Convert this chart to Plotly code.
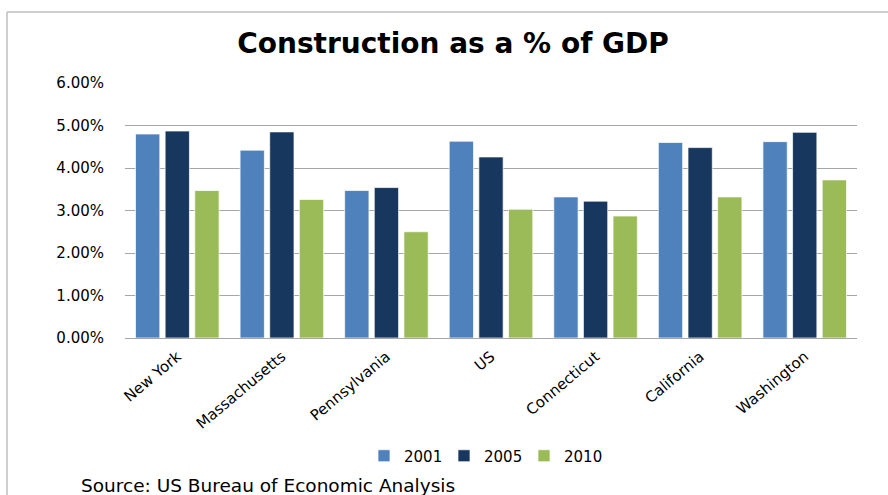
import plotly.graph_objects as go

categories = ["New York", "Massachusetts", "Pennsylvania", "US", "Connecticut", "California", "Washington"]
years = ["2001", "2005", "2010"]
values_2001 = [4.80, 4.42, 3.47, 4.63, 3.32, 4.60, 4.62]
values_2005 = [4.87, 4.85, 3.54, 4.26, 3.22, 4.48, 4.84]
values_2010 = [3.47, 3.26, 2.50, 3.03, 2.87, 3.32, 3.72]
colors = ["#4F81BD", "#17375E", "#9BBB59"]
tick_vals = [0, 1, 2, 3, 4, 5, 6]
tick_text = ["0.00%", "1.00%", "2.00%", "3.00%", "4.00%", "5.00%", "6.00%"]

W, H = 888, 495
ml, mr, mt, mb = 125, 31, 83, 157
pw, ph = W - ml - mr, H - mt - mb

def px_x(x):
    return (x - ml) / pw

def px_y(y):
    return (H - mb - y) / ph

fig = go.Figure()
for name, vals, col in zip(years, [values_2001, values_2005, values_2010], colors):
    fig.add_trace(go.Bar(
        x=categories, y=vals, name=name,
        marker=dict(color=col, line=dict(color="rgba(255,255,255,0.7)", width=1)),
    ))

font = "DejaVu Sans, sans-serif"

fig.update_layout(
    width=W, height=H,
    margin=dict(l=ml, r=mr, t=mt, b=mb),
    paper_bgcolor="white", plot_bgcolor="white",
    barmode="group", bargap=0.15, bargroupgap=0.18,
    title=dict(text="<b>Construction as a % of GDP</b>", x=453 / W, xref="container", xanchor="center",
               y=1 - 43 / H, yref="container", yanchor="middle",
               font=dict(family=font, size=28, color="black")),
    showlegend=True,
    legend=dict(orientation="h", x=px_x(364), xanchor="left", y=px_y(456), yanchor="middle",
                font=dict(family=font, size=15, color="black"), traceorder="normal",
                itemwidth=30, entrywidth=35, entrywidthmode="pixels"),
    xaxis=dict(tickangle=-40, tickfont=dict(family=font, size=15, color="black"),
               showline=False, ticks="", showgrid=False, ticklabelstandoff=6),
    yaxis=dict(range=[0, 6], tickvals=tick_vals, ticktext=tick_text,
               tickfont=dict(family=font, size=15, color="black"),
               showgrid=True, gridcolor="#A6A6A6", gridwidth=1, zeroline=True,
               zerolinecolor="#A6A6A6", zerolinewidth=1, ticklabelstandoff=20, showline=False),
    annotations=[dict(text="Source: US Bureau of Economic Analysis", xref="paper", yref="paper",
                      x=px_x(79), y=px_y(485), xanchor="left", yanchor="middle", showarrow=False,
                      font=dict(family=font, size=18.5, color="black"))],
    shapes=[
        dict(type="line", xref="paper", yref="paper", x0=px_x(7), x1=px_x(888), y0=px_y(12), y1=px_y(12),
             line=dict(color="#BFBFBF", width=1.5)),
        dict(type="line", xref="paper", yref="paper", x0=px_x(7), x1=px_x(7), y0=px_y(12), y1=px_y(495),
             line=dict(color="#BFBFBF", width=1.5)),
    ],
)

fig.write_html("out.html")
